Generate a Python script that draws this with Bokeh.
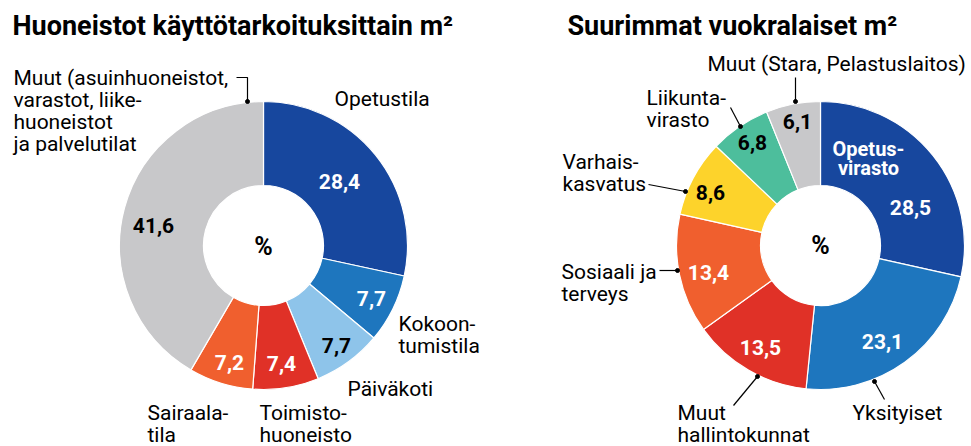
import math
from bokeh.plotting import figure
from bokeh.models import Range1d, ColumnDataSource
from bokeh.embed import file_html
from bokeh.resources import INLINE
from bokeh.core.properties import value

# ---------------- data ----------------
left_title = "Huoneistot käyttötarkoituksittain m²"
left_names = ["Opetustila", "Kokoon-\ntumistila", "Päiväkoti", "Toimisto-\nhuoneisto",
              "Sairaala-\ntila", "Muut (asuinhuoneistot,\nvarastot, liike-\nhuoneistot\nja palvelutilat"]
left_values = [28.4, 7.7, 7.7, 7.4, 7.2, 41.6]

right_title = "Suurimmat vuokralaiset m²"
right_names = ["Opetus-\nvirasto", "Yksityiset", "Muut\nhallintokunnat", "Sosiaali ja\nterveys",
               "Varhais-\nkasvatus", "Liikunta-\nvirasto", "Muut (Stara, Pelastuslaitos)"]
right_values = [28.5, 23.1, 13.5, 13.4, 8.6, 6.8, 6.1]

# ---------------- styles / layout ----------------
DARK = "#17479E"; MED = "#1E76BE"; LIGHT = "#8EC4EA"; RED = "#E03127"
ORANGE = "#F05F2E"; GRAY = "#C8C8CA"; YELLOW = "#FDD32B"; GREEN = "#4DBE9C"
left_colors = [DARK, MED, LIGHT, RED, ORANGE, GRAY]
right_colors = [DARK, MED, RED, ORANGE, YELLOW, GREEN, GRAY]
left_vcol = ["white", "white", "black", "white", "white", "black"]
right_vcol = ["white", "white", "white", "white", "black", "black", "black"]

W, H = 971, 446
FONT = "Roboto"

def P(x, y):
    # page pixel -> data coordinates
    return x, H - y

p = figure(width=W, height=H, x_range=Range1d(0, W), y_range=Range1d(0, H),
           x_axis_type=None, y_axis_type=None, toolbar_location=None,
           output_backend="svg", min_border=0)
p.grid.visible = False
p.outline_line_color = None
p.background_fill_color = "white"

def donut(cx, cy, vals, colors):
    total = sum(vals)
    starts, ends = [], []
    cum = 0.0
    for v in vals:
        starts.append(math.pi / 2 - 2 * math.pi * cum / total)
        cum += v
        ends.append(math.pi / 2 - 2 * math.pi * cum / total)
    x, y = P(cx, cy)
    src = ColumnDataSource(dict(x=[x] * len(vals), y=[y] * len(vals),
                                s=starts, e=ends, c=colors))
    p.annular_wedge(x="x", y="y", inner_radius=60, outer_radius=144,
                    start_angle="s", end_angle="e", direction="clock",
                    fill_color="c", line_color="white", line_width=1.2, source=src)

donut(263, 245, left_values, left_colors)
donut(820, 245, right_values, right_colors)

def fmt(v):
    return ("%.1f" % v).replace(".", ",")

def put_text(items, size, style="normal", align="left", lh=22):
    xs, ys, ts, cs = [], [], [], []
    for (txt, px, py, col) in items:
        for i, line in enumerate(txt.split("\n")):
            x, y = P(px, py + i * lh)
            xs.append(x); ys.append(y); ts.append(line); cs.append(col)
    src = ColumnDataSource(dict(x=xs, y=ys, t=ts, c=cs))
    p.text(x="x", y="y", text="t", text_color="c", source=src,
           text_font=value(FONT), text_font_size=value(size),
           text_font_style=value(style), text_align=value(align),
           text_baseline=value("middle"))

# titles
put_text([(left_title, 12, 25, "black"), (right_title, 567, 25, "black")], "27px", "bold")

# value label positions (page px)
left_vpos = [(339, 181), (371, 298), (336, 345), (281, 363), (229, 362), (153, 225)]
right_vpos = [(910, 207), (882, 341), (760, 347), (708, 272), (710, 192), (752, 142), (797, 121)]

vitems = []
for v, (px, py), c in zip(left_values, left_vpos, left_vcol):
    vitems.append((fmt(v), px, py, c))
for v, (px, py), c in zip(right_values, right_vpos, right_vcol):
    vitems.append((fmt(v), px, py, c))
put_text(vitems, "21px", "bold", "center")

# centre "%" marks
put_text([("%", 263, 246, "black"), ("%", 820, 245, "black")], "25px", "bold", "center")

# inner name label for largest right slice
put_text([(right_names[0], 868, 148, "white")], "20px", "bold", "center", lh=19)

# outer name labels (page px, first-line centre)
left_lpos = [(334, 98), (398, 323), (347, 388), (259, 412), (147, 412), (13, 77)]
right_lpos = [None, (852, 412), (677, 412), (561, 271), (562, 161), (646, 97), (707, 63)]
litems = []
for n, pos in zip(left_names, left_lpos):
    litems.append((n, pos[0], pos[1], "black"))
for n, pos in zip(right_names, right_lpos):
    if pos is not None:
        litems.append((n, pos[0], pos[1], "black"))
put_text(litems, "21px", "normal", "left")

# leader lines (page px) with dot at slice end
leaders = [
    [(236, 77), (247, 77), (247, 101)],
    [(795, 77), (795, 101)],
    [(730, 107), (740, 126)],
    [(648, 184), (685, 191)],
    [(659, 270), (677, 270)],
    [(733, 405), (757, 376)],
    [(884, 399), (874, 381)],
]
for seg in leaders:
    xs = [P(a, b)[0] for a, b in seg]
    ys = [P(a, b)[1] for a, b in seg]
    p.line(xs, ys, line_color="black", line_width=1.2)
dots = [(247, 101), (795, 101), (740, 126), (685, 191), (677, 270), (757, 376), (874, 381)]
p.scatter([P(a, b)[0] for a, b in dots], [P(a, b)[1] for a, b in dots],
          size=4, color="black")

open("out.html", "w").write(file_html(p, INLINE))
